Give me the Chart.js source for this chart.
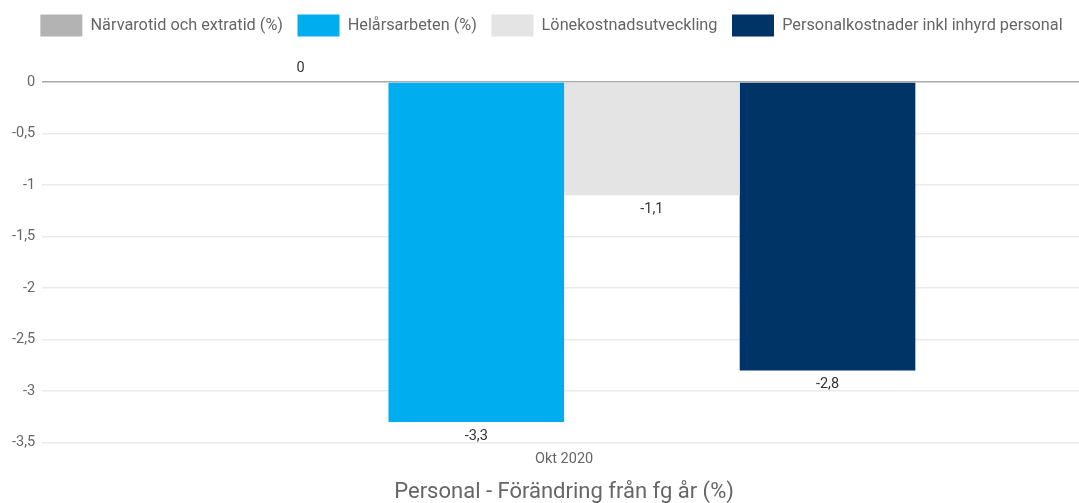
<!DOCTYPE html>
<html>
<head>
<meta charset="utf-8">
<script src="https://cdn.jsdelivr.net/npm/chart.js@4.4.1/dist/chart.umd.min.js"></script>
<style>
  html, body { margin: 0; padding: 0; background: #fff; overflow: hidden; }
  #wrap { width: 1079px; height: 503px; overflow: hidden; }
  #box { width: 1086px; height: 503px; }
</style>
</head>
<body>
<div id="wrap"><div id="box"><canvas id="chart"></canvas></div></div>
<script>
// Data
const categories = ['Okt 2020'];
const seriesNames = ['Närvarotid och extratid (%)', 'Helårsarbeten (%)', 'Lönekostnadsutveckling', 'Personalkostnader inkl inhyrd personal'];
const narvarotid = [0];
const helarsarbeten = [-3.3];
const lonekostnad = [-1.1];
const personalkostnader = [-2.8];
const seriesColors = ['#b3b3b3', '#00aeef', '#e4e4e4', '#003366'];
const yTicks = [0, -0.5, -1, -1.5, -2, -2.5, -3, -3.5];
const axisTitle = 'Personal - Förändring från fg år (%)';

// decimal comma, plain hyphen minus
const fmt = v => String(v).replace('.', ',');

// Value labels above / below every bar
const barLabels = {
    id: 'barLabels',
    afterDatasetsDraw(chart) {
        const ctx = chart.ctx;
        ctx.save();
        ctx.font = '14.5px Roboto';
        ctx.fillStyle = '#333';
        ctx.textAlign = 'center';
        ctx.textBaseline = 'middle';
        chart.data.datasets.forEach((ds, i) => {
            const meta = chart.getDatasetMeta(i);
            meta.data.forEach((bar, j) => {
                const v = ds.data[j];
                const y = v < 0 ? bar.y + 14 : bar.y - 14;
                ctx.fillText(fmt(v), bar.x, y);
            });
        });
        ctx.restore();
    }
};

// legend: fixed height and a small nudge to the right
const legendTweak = {
    id: 'legendTweak',
    beforeInit(chart) {
        const fit = chart.legend.fit;
        chart.legend.fit = function () {
            fit.bind(chart.legend)();
            this.height = 82;
        };
    },
    afterLayout(chart) {
        chart.legend.left += 6;
        chart.legend.right += 6;
    }
};

const allSeries = [narvarotid, helarsarbeten, lonekostnad, personalkostnader];

new Chart(document.getElementById('chart'), {
    type: 'bar',
    data: {
        labels: categories,
        datasets: allSeries.map((d, i) => ({
            label: seriesNames[i],
            data: d,
            backgroundColor: seriesColors[i],
            borderWidth: 0,
            categoryPercentage: 0.673,
            barPercentage: 1
        }))
    },
    options: {
        responsive: true,
        maintainAspectRatio: false,
        animation: false,
        layout: { padding: { top: 0, left: 5, right: 0, bottom: 0 } },
        plugins: {
            legend: {
                position: 'top',
                labels: {
                    boxWidth: 42,
                    boxHeight: 22,
                    padding: 14.5,
                    color: '#666',
                    font: { family: 'Roboto', size: 16.3 }
                }
            },
            tooltip: { enabled: false }
        },
        scales: {
            x: {
                grid: { display: false, drawTicks: false },
                border: { display: false },
                ticks: { color: '#666', font: { family: 'Roboto', size: 14.5 }, padding: 8 },
                title: {
                    display: true,
                    text: axisTitle,
                    color: '#666',
                    font: { family: 'Roboto', size: 22, lineHeight: 1 },
                    padding: { top: 5, bottom: 0 }
                }
            },
            y: {
                min: -3.5,
                max: 0,
                afterBuildTicks: axis => { axis.ticks = yTicks.map(v => ({ value: v })); },
                grid: {
                    drawTicks: false,
                    lineWidth: 1.5,
                    color: ctx => ctx.tick && ctx.tick.value === 0 ? '#aaaaaa' : '#e8ebee'
                },
                border: { display: false },
                ticks: {
                    color: '#666',
                    font: { family: 'Roboto', size: 14.5 },
                    padding: 7,
                    callback: v => fmt(v)
                }
            }
        }
    },
    plugins: [barLabels, legendTweak]
});
</script>
</body>
</html>
